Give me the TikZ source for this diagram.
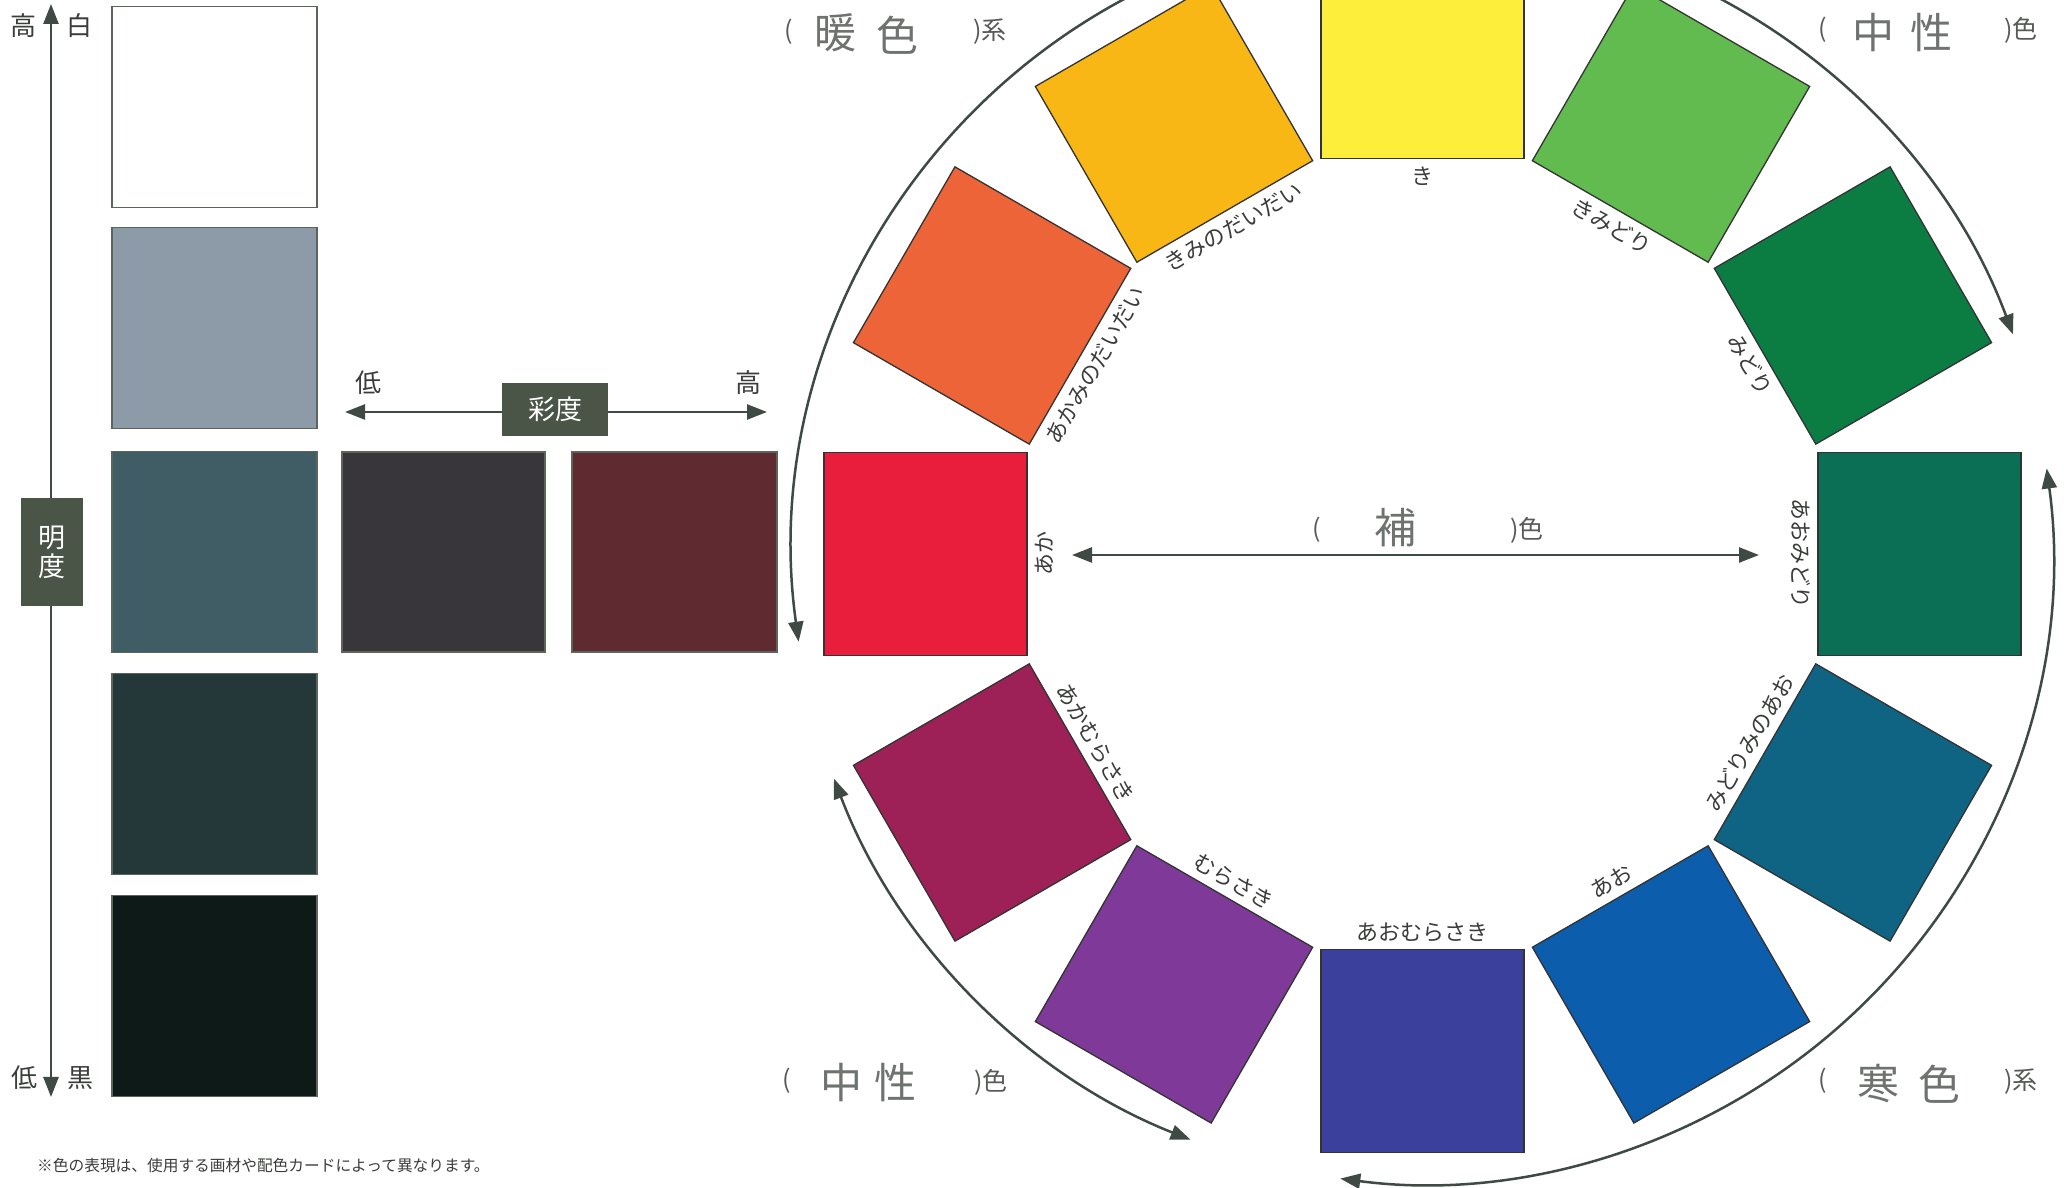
\documentclass[tikz,border=0pt]{standalone}
\usepackage{fontspec}
\setmainfont{Noto Sans CJK JP}
\usetikzlibrary{arrows.meta}
\definecolor{linec}{HTML}{3E4A43}
\definecolor{boxc}{HTML}{4A5447}
\definecolor{txtc}{HTML}{3A3D3A}
\definecolor{handc}{HTML}{6E7370}
\definecolor{cA}{HTML}{E91E3C}
\definecolor{cB}{HTML}{EE6439}
\definecolor{cC}{HTML}{F8B715}
\definecolor{cD}{HTML}{FEEE3C}
\definecolor{cE}{HTML}{62BB4E}
\definecolor{cF}{HTML}{0C7D42}
\definecolor{cG}{HTML}{0B6F55}
\definecolor{cH}{HTML}{0E6482}
\definecolor{cI}{HTML}{0C5DAB}
\definecolor{cJ}{HTML}{3C409D}
\definecolor{cK}{HTML}{7F3A99}
\definecolor{cL}{HTML}{9D2157}
\definecolor{gA}{HTML}{FFFFFF}
\definecolor{gB}{HTML}{8D9AA8}
\definecolor{gC}{HTML}{405D66}
\definecolor{gD}{HTML}{243839}
\definecolor{gE}{HTML}{0E1A17}
\definecolor{sA}{HTML}{38363B}
\definecolor{sB}{HTML}{5F2A30}
\begin{document}
\begin{tikzpicture}[x=1pt,y=1pt,
  ink/.style={draw=linec, line width=2.5pt},
  tipE/.style={-{Triangle[length=20pt,width=15pt]}},
  tipB/.style={{Triangle[length=20pt,width=15pt]}-{Triangle[length=20pt,width=15pt]}},
  sq/.style={draw=black!80, line width=1.3pt, minimum size=203pt, inner sep=0pt},
  swatch/.style={draw=boxc!90, line width=1.5pt, minimum width=205pt, minimum height=201pt, inner sep=0pt},
  lab/.style={text=txtc, font=\fontsize{22}{24}\selectfont, inner sep=0pt},
  axlab/.style={text=txtc, font=\fontsize{26}{28}\selectfont, inner sep=0pt},
  tagbox/.style={fill=boxc, text=white, font=\fontsize{27}{31}\selectfont, inner sep=0pt, align=center},
  paren/.style={text=txtc!85, font=\fontsize{25}{27}\selectfont, inner sep=0pt},
  hand/.style={text=handc, font=\fontsize{42}{44}\selectfont, inner sep=0pt}
]
\useasboundingbox (0,0) rectangle (2071,1188);
\fill[white] (0,0) rectangle (2071,1188);

% ---------- lightness column ----------
\coordinate (vtop) at (51,1184);
\coordinate (vbot) at (51,91);
\draw[ink, tipB] (vbot) -- (vtop);
\node[axlab] (hi1) at (23,1162) {高};
\node[axlab] (wh) at (79,1162) {白};
\node[axlab] (lo1) at (24,110) {低};
\node[axlab] (bk) at (80,110) {黒};
\node[tagbox, minimum width=62pt, minimum height=108pt] (meido) at (52,636) {明\\[-2pt]度};

\node[swatch, fill=gA] (g1) at (214.6,1081) {};
\node[swatch, fill=gB] (g2) at (214.6,860) {};
\node[swatch, fill=gC] (g3) at (214.6,636) {};
\node[swatch, fill=gD] (g4) at (214.6,414) {};
\node[swatch, fill=gE] (g5) at (214.6,192) {};

% ---------- saturation row ----------
\node[swatch, fill=sA, minimum width=203pt, minimum height=200pt] (s1) at (443.5,636) {};
\node[swatch, fill=sB, minimum width=205pt, minimum height=200pt] (s2) at (674.3,636) {};
\coordinate (hl) at (345,776);
\coordinate (hr) at (767,776);
\draw[ink, tipB] (hl) -- (hr);
\node[tagbox, minimum width=106pt, minimum height=53pt] (saido) at (555,778.5) {彩度};
\node[axlab] (lo2) at (368,805) {低};
\node[axlab] (hi2) at (748,805) {高};

% ---------- colour wheel ----------
\coordinate (C) at (1422.5,634);
\foreach \i/\a/\c/\t/\r in {1/180/cA/あか/90, 2/150/cB/あかみのだいだい/60, 3/120/cC/きみのだいだい/30,
  4/90/cD/き/0, 5/60/cE/きみどり/-30, 6/30/cF/みどり/-60, 7/0/cG/あおみどり/-90,
  8/-30/cH/みどりみのあお/60, 9/-60/cI/あお/30, 10/-90/cJ/あおむらさき/0,
  11/-120/cK/むらさき/-30, 12/-150/cL/あかむらさき/-60}{
  \node[sq, fill=\c, rotate=\a] (w\i) at ([shift={(\a:497)}]C) {};
  \node[lab, rotate=\r] (t\i) at ([shift={(\a:378)}]C) {\t};
}

% outer arcs
\coordinate (a1s) at ([shift={(110:630)}]C);
\draw[ink, tipE] (a1s) arc (110:188:630);
\coordinate (a2s) at ([shift={(70:630)}]C);
\draw[ink, tipE] (a2s) arc (70:20.4:630);
\coordinate (a3s) at ([shift={(7.8:630)}]C);
\draw[ink, tipB] (a3s) arc (7.8:-97.5:630);
\coordinate (a4s) at ([shift={(200.9:630)}]C);
\draw[ink, tipB] (a4s) arc (200.9:248.4:630);

% complementary arrow
\coordinate (cl) at (1072,633);
\coordinate (cr) at (1759,633);
\draw[ink, tipB] (cl) -- (cr);
\node[paren] (hp1) at (1317,658) {(};
\node[hand] (ho) at (1395,660) {補};
\node[paren] (hp2) at (1527,658) {)色};

% group labels
\node[paren] (wp1) at (789,1156) {(};
\node[hand] (wd1) at (835,1155) {暖};
\node[hand] (wd2) at (897,1153) {色};
\node[paren] (wp2) at (990,1156) {)系};

\node[paren] (np1) at (1823,1158) {(};
\node[hand] (nd1) at (1873,1155) {中};
\node[hand] (nd2) at (1931,1155) {性};
\node[paren] (np2) at (2021,1158) {)色};

\node[paren] (mp1) at (787,107) {(};
\node[hand] (md1) at (841,105) {中};
\node[hand] (md2) at (895,105) {性};
\node[paren] (mp2) at (991,106) {)色};

\node[paren] (kp1) at (1823,107) {(};
\node[hand] (kd1) at (1878,104) {寒};
\node[hand] (kd2) at (1939,104) {色};
\node[paren] (kp2) at (2021,106) {)系};

% footnote
\node[text=txtc, font=\fontsize{15.7}{17}\selectfont, inner sep=0pt, anchor=west] (note) at (37,22) {※色の表現は、使用する画材や配色カードによって異なります。};
\end{tikzpicture}
\end{document}
